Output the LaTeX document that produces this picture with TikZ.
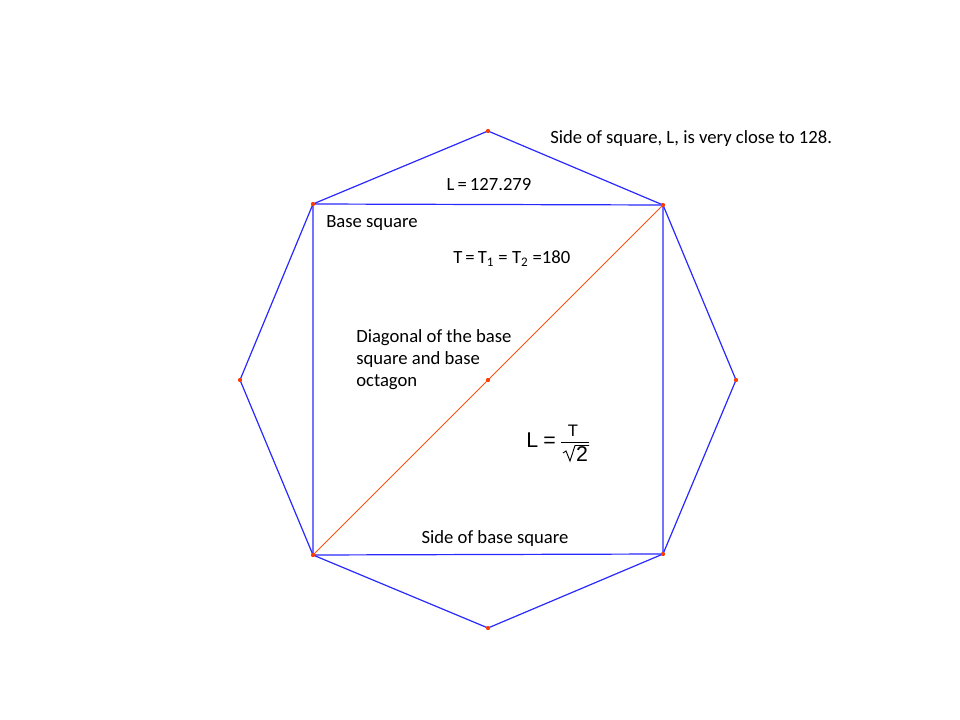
\documentclass[tikz,border=0pt]{standalone}
\usepackage{fontspec}
\setmainfont{Carlito}
\newfontfamily\arialfont{Liberation Sans}
\begin{document}
\begin{tikzpicture}[x=0.75pt,y=-0.75pt,
  edge/.style={draw={rgb,255:red,40;green,40;blue,255},line width=0.9pt},
  diag/.style={draw={rgb,255:red,255;green,80;blue,20},line width=0.6pt},
  vdot/.style={circle,fill={rgb,255:red,255;green,60;blue,0},inner sep=0pt,minimum size=3pt},
  lbl/.style={font=\fontsize{14}{16.5}\selectfont,inner sep=0pt},
  frm/.style={font=\arialfont\fontsize{16}{18}\selectfont,inner sep=0pt},
  frmline/.style={draw=black,line width=0.7pt}]
\useasboundingbox (0,0) rectangle (960,720);
\node[vdot] (o1) at (488,131) {};
\node[vdot] (o2) at (663,205) {};
\node[vdot] (o3) at (736,380) {};
\node[vdot] (o4) at (663,554) {};
\node[vdot] (o5) at (488,628) {};
\node[vdot] (o6) at (313,555) {};
\node[vdot] (o7) at (240,380) {};
\node[vdot] (o8) at (313,204) {};
\node[vdot] (c) at (488,380) {};
\draw[edge] (o1.center) -- (o2.center) -- (o3.center) -- (o4.center) -- (o5.center) -- (o6.center) -- (o7.center) -- (o8.center) -- cycle;
\draw[edge] (o8.center) -- (o2.center) -- (o4.center) -- (o6.center) -- cycle;
\draw[diag] (o6.center) -- (o2.center);
\foreach \n in {o1,o2,o3,o4,o5,o6,o7,o8,c} \node[vdot] at (\n) {};
\node[lbl,anchor=west] (t1) at (550,139) {Side of square, L, is very close to 128.};
\node[lbl] (t2) at (489,185) {L\,=\,127.279};
\node[lbl,anchor=west] (t3) at (326,223) {Base square};
\node[lbl,anchor=west] (t4) at (453,259) {T\,=\,T\textsubscript{1} = T\textsubscript{2} =180};
\node[lbl,anchor=west,align=left] (t5) at (356,360) {Diagonal of the base\\square and base\\octagon};
% formula L = T / sqrt(2)
\node[frm,anchor=west] (fl) at (526,440) {L\kern4pt=};
\node[frm,font=\arialfont\fontsize{12.5}{14}\selectfont] (ft) at (573,431) {T};
\node[frm] (f2) at (582,454) {2};
\coordinate (fb1) at (561,442);
\coordinate (fb2) at (589,442);
\draw[frmline] (fb1) -- (fb2);
\coordinate (r1) at (563,453);
\coordinate (r2) at (566,451);
\coordinate (r3) at (570,461);
\coordinate (r4) at (575,445.5);
\coordinate (r5) at (589,445.5);
\draw[frmline,line join=miter] (r1) -- (r2) -- (r3) -- (r4) -- (r5);
\node[lbl] (t7) at (495,539) {Side of base square};
\end{tikzpicture}
\end{document}
